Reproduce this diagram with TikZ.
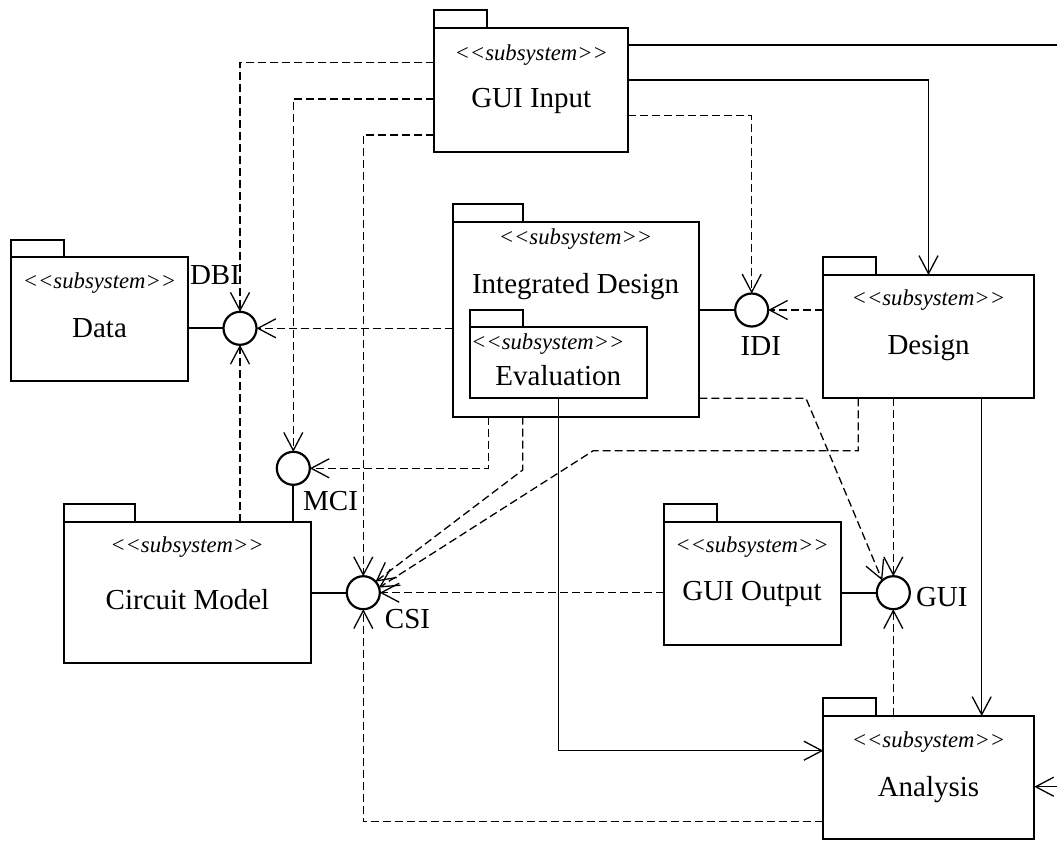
\documentclass[tikz,border=0pt]{standalone}
\usepackage{fontspec}
\setmainfont{Liberation Serif}
\usetikzlibrary{arrows.meta}
% stereotype text; the kerns keep << and >> from turning into guillemets
\newcommand{\subsys}{<\kern0pt<subsystem>\kern0pt>}

\begin{document}
\begin{tikzpicture}[x=1pt,y=-1pt,
  pkg/.style={draw, line width=2pt, inner sep=0pt, outer sep=0pt, anchor=north west},
  pkgtab/.style={draw, line width=2pt, inner sep=0pt, outer sep=0pt, anchor=south west},
  iface/.style={draw, circle, line width=2.2pt, minimum size=33pt, inner sep=0pt, outer sep=0pt},
  stem/.style={line width=2pt},
  depline/.style={line width=1.3pt, dash pattern=on 8pt off 4pt, -{Straight Barb[length=18pt,width=19pt]}},
  useline/.style={line width=1.3pt, -{Straight Barb[length=18pt,width=19pt]}},
  ster/.style={font=\fontsize{22.7}{27}\selectfont\itshape, inner sep=0pt, anchor=base},
  pkgname/.style={font=\fontsize{29}{34}\selectfont, inner sep=0pt, anchor=base}]

\useasboundingbox (0,0) rectangle (1057,841);
\clip (0,0) rectangle (1057,841);

% ---------- packages ----------
\node[pkg, minimum width=194pt, minimum height=123.4pt] (guiin) at (434.3,28.3) {};
\node[pkgtab, minimum width=53pt, minimum height=18.3pt] (guiin-tab) at (guiin.north west) {};
\node[ster] (guiin-st) at (531.3,60.7) {\subsys};
\node[pkgname] (guiin-nm) at (531.3,107.3) {GUI Input};

\node[pkg, minimum width=177.3pt, minimum height=123.7pt] (data) at (11,257.3) {};
\node[pkgtab, minimum width=53.3pt, minimum height=17.3pt] (data-tab) at (data.north west) {};
\node[ster] (data-st) at (99.5,288.3) {\subsys};
\node[pkgname] (data-nm) at (99.5,337.3) {Data};

\node[pkg, minimum width=246.6pt, minimum height=194.4pt] (intd) at (452.7,222.3) {};
\node[pkgtab, minimum width=70.6pt, minimum height=18.3pt] (intd-tab) at (intd.north west) {};
\node[ster] (intd-st) at (575.5,244) {\subsys};
\node[pkgname] (intd-nm) at (575.5,293.3) {Integrated Design};

\node[pkg, minimum width=176.7pt, minimum height=71pt] (eval) at (470,327.3) {};
\node[pkgtab, minimum width=53.3pt, minimum height=17.3pt] (eval-tab) at (eval.north west) {};
\node[ster] (eval-st) at (547.8,349.3) {\subsys};
\node[pkgname] (eval-nm) at (558.3,385) {Evaluation};

\node[pkg, minimum width=211.6pt, minimum height=123.3pt] (design) at (822.7,275) {};
\node[pkgtab, minimum width=53.3pt, minimum height=17.7pt] (design-tab) at (design.north west) {};
\node[ster] (design-st) at (928.4,305) {\subsys};
\node[pkgname] (design-nm) at (928.6,354) {Design};

\node[pkg, minimum width=246.7pt, minimum height=140.7pt] (cm) at (64,522) {};
\node[pkgtab, minimum width=71pt, minimum height=18pt] (cm-tab) at (cm.north west) {};
\node[ster] (cm-st) at (187,552.7) {\subsys};
\node[pkgname] (cm-nm) at (187.5,609.3) {Circuit Model};

\node[pkg, minimum width=176.7pt, minimum height=122.7pt] (guiout) at (664,522.3) {};
\node[pkgtab, minimum width=53.3pt, minimum height=18.3pt] (guiout-tab) at (guiout.north west) {};
\node[ster] (guiout-st) at (752,552.7) {\subsys};
\node[pkgname] (guiout-nm) at (752,600.7) {GUI Output};

\node[pkg, minimum width=211pt, minimum height=123.3pt] (analysis) at (823.3,716) {};
\node[pkgtab, minimum width=52.7pt, minimum height=17.7pt] (analysis-tab) at (analysis.north west) {};
\node[ster] (analysis-st) at (928.5,747.3) {\subsys};
\node[pkgname] (analysis-nm) at (928.5,796) {Analysis};

% ---------- provided interfaces ----------
\node[iface] (dbi) at (240,328.3) {};
\node[iface] (idi) at (751.7,310) {};
\node[iface] (mci) at (293.3,468.3) {};
\node[iface] (csi) at (363.3,592.7) {};
\node[iface] (gui) at (893.3,592.7) {};

\node[pkgname] (dbi-l) at (215,284.3) {DBI};
\node[pkgname] (idi-l) at (760.8,355) {IDI};
\node[pkgname] (mci-l) at (330.6,510) {MCI};
\node[pkgname] (csi-l) at (407.5,628.3) {CSI};
\node[pkgname] (gui-l) at (941.8,606) {GUI};

% lollipop stems
\draw[stem] (data.east |- dbi.west) -- (dbi.west);
\draw[stem] (intd.east |- idi.west) -- (idi.west);
\draw[stem] (cm.north -| mci.south) -- (mci.south);
\draw[stem] (cm.east |- csi.west) -- (csi.west);
\draw[stem] (guiout.east |- gui.west) -- (gui.west);

% ---------- dependencies on interfaces ----------
\draw[depline] (guiin.west |- 0,62.7) -| (dbi.north);
\draw[depline] (guiin.west |- 0,99) -| (mci.north);
\draw[depline] (guiin.west |- 0,135) -| (csi.north);
\draw[depline] (guiin.east |- 0,115.7) -| (idi.north);

\draw[depline] (intd.west |- dbi.east) -- (dbi.east);
\draw[depline] (cm.north -| dbi.south) -- (dbi.south);

\draw[depline] (design.west |- idi.east) -- (idi.east);

\draw[depline] (intd.south -| 488.3,0) |- (mci.east);
\draw[depline] (intd.south -| 522.7,0) -- (522.7,470) -- (csi.42);
\draw[depline] (design.south -| 858.3,0) |- (593.3,450.7) -- (csi.18);
\draw[depline] (guiout.west |- csi.east) -- (csi.east);
\draw[depline] (analysis.west |- 0,821.7) -| (csi.south);

\draw[depline] (intd.east |- 0,398.3) -- (806,398.3) -- (gui.132);
\draw[depline] (design.south -| gui.north) -- (gui.north);
\draw[depline] (analysis.north -| gui.south) -- (gui.south);

% ---------- usage between packages ----------
\draw[useline] (guiin.east |- 0,80) -| (design.north);
\draw[useline] (guiin.east |- 0,45) -| (1075,786.7) -- (analysis.east |- 0,786.7);
\draw[useline] (design.south -| 981.7,0) -- (analysis.north -| 981.7,0);
\draw[useline] (eval.south) |- (analysis.west |- 0,750.7);

\end{tikzpicture}
\end{document}
